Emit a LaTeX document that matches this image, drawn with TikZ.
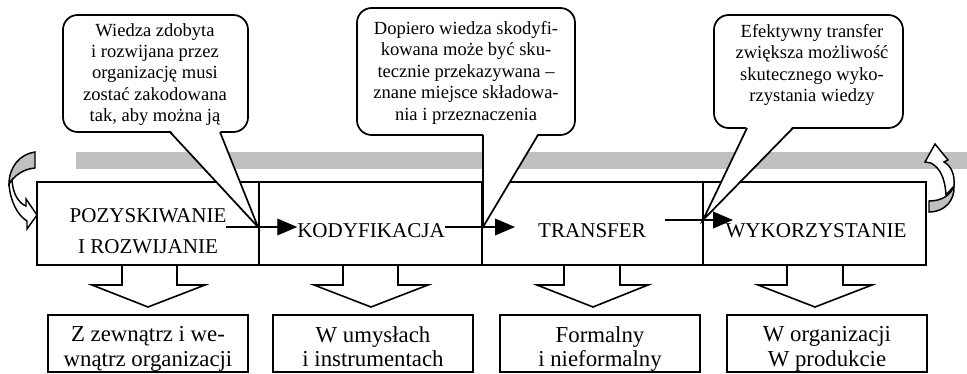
\documentclass[tikz,border=0pt]{standalone}
\usepackage{fontspec}
\setmainfont{Liberation Serif}
\usetikzlibrary{arrows.meta}
\definecolor{bargray}{RGB}{192,192,192}
\begin{document}
\begin{tikzpicture}[x=0.75pt,y=-0.75pt,line join=miter,
  stagebox/.style={draw,line width=1.3pt,fill=white,minimum width=#1,
    minimum height=62.25pt,inner sep=0pt,outer sep=0pt,anchor=north west},
  resultbox/.style={draw,line width=1.3pt,fill=white,minimum width=150pt,
    minimum height=42.75pt,inner sep=0pt,outer sep=0pt,anchor=north west},
  calloutbox/.style={draw,line width=1.3pt,fill=white,rounded corners=11pt,
    inner sep=0pt,outer sep=0pt,minimum width=#1},
  stagetext/.style={inner sep=0pt,outer sep=0pt,align=center,
    font=\fontsize{15.8pt}{23.3pt}\selectfont},
  resulttext/.style={inner sep=0pt,outer sep=0pt,align=center,anchor=north,
    font=\fontsize{17.1pt}{18.4pt}\selectfont},
  callouttext/.style={inner sep=0pt,outer sep=0pt,align=center,anchor=north,
    font=\fontsize{13.9pt}{16.1pt}\selectfont},
  flow/.style={line width=1.1pt,-{Triangle[length=15pt,width=12.5pt]}},
  downarrow/.style={draw,line width=1.2pt},
  tailline/.style={line width=1.3pt},
  ribbon/.style={draw,line width=1.1pt}]
\useasboundingbox (0,0) rectangle (967,374);

% grey band behind the process
\fill[bargray] (76,152) rectangle (967,169);

% process stages
\node[stagebox=166.5pt] (s1) at (37,182) {};
\node[stagebox=167.25pt] (s2) at (259,182) {};
\node[stagebox=165.75pt] (s3) at (482,182) {};
\node[stagebox=167.25pt] (s4) at (703,182) {};

\node[stagetext,anchor=north] (t1) at (148,208.1) {POZYSKIWANIE\\I ROZWIJANIE};
\node[stagetext,anchor=base] (t2) at (371,237) {KODYFIKACJA};
\node[stagetext,anchor=base] (t3) at (592,237) {TRANSFER};
\node[stagetext,anchor=base] (t4) at (816,237) {WYKORZYSTANIE};

% block arrows down to the descriptions
\draw[downarrow] (122,265) -- (122,285) -- (92,285) -- (148,307) -- (205,285) -- (177,285) -- (177,265);
\draw[downarrow] (343,265) -- (343,285) -- (314,285) -- (371,307) -- (428,285) -- (398,285) -- (398,265);
\draw[downarrow] (564,265) -- (564,285) -- (537,285) -- (593,307) -- (648,285) -- (620,285) -- (620,265);
\draw[downarrow] (787,265) -- (787,285) -- (758,285) -- (815,307) -- (872,285) -- (843,285) -- (843,265);

% descriptions
\node[resultbox] (r1) at (48,315) {};
\node[resultbox] (r2) at (273,315) {};
\node[resultbox] (r3) at (500,315) {};
\node[resultbox] (r4) at (727,315) {};
\node[resulttext] (d1) at (148,326.5) {Z zewnątrz i we-\\wnątrz organizacji};
\node[resulttext] (d2) at (373,326.5) {W umysłach\\i instrumentach};
\node[resulttext] (d3) at (600,326.5) {Formalny\\i nieformalny};
\node[resulttext] (d4) at (827,326.5) {W organizacji\\W produkcie};

% flow between stages
\coordinate (tip1) at (258,227);
\coordinate (tip2) at (483,227);
\coordinate (tip3) at (703,220);
\coordinate (h2) at (515,227);
\coordinate (g3) at (665,220);
\coordinate (h3) at (733,220);
\draw[flow] (t1.east |- tip1) -- (t2.west |- tip1);
\draw[flow] (t2.east |- tip2) -- (h2);
\draw[flow] (g3) -- (h3);

% curved return arrow, left
\filldraw[ribbon,fill=bargray] (35,152) .. controls (20,154) and (9,167) .. (9,184)
  .. controls (14,176) and (23,169) .. (35,168) -- cycle;
\filldraw[ribbon,fill=white] (9,184) .. controls (10,200) and (17,215) .. (27,221)
  -- (27,229) -- (37,215) -- (26,199) -- (26,206)
  .. controls (19,203) and (13,195) .. (12,180) -- cycle;

% curved return arrow, right
\filldraw[ribbon,fill=bargray] (929,212) .. controls (945,212) and (955,200) .. (954,186)
  .. controls (950,196) and (941,201) .. (929,201) -- cycle;
\filldraw[ribbon,fill=white] (954,186) .. controls (955,174) and (951,166) .. (944,162)
  -- (948,160) -- (935,144) -- (925,162) -- (931,163)
  .. controls (940,168) and (945,178) .. (946,195) -- cycle;

% callouts
\node[calloutbox=138.75pt,minimum height=87.75pt] (c1) at (155.5,73.5) {};
\fill[white] (170,130) -- (tip1) -- (220,130) -- cycle;
\draw[tailline] (170,132) -- (tip1) -- (220,132);
\node[callouttext] (x1) at (155,23.2)
  {Wiedza zdobyta\\i rozwijana przez\\organizację musi\\zostać zakodowana\\tak, aby można ją};

\node[calloutbox=163.5pt,minimum height=95.25pt] (c2) at (466,71.5) {};
\fill[white] (483,133) -- (tip2) -- (538,133) -- cycle;
\draw[tailline] (483,135) -- (tip2) -- (538,135);
\node[callouttext] (x2) at (466,21.2)
  {Dopiero wiedza skodyfi-\\kowana może być sku-\\tecznie przekazywana –\\znane miejsce składowa-\\nia i przeznaczenia};

\node[calloutbox=141.75pt,minimum height=84.75pt] (c3) at (808.5,71.5) {};
\fill[white] (747,126) -- (tip3) -- (793,126) -- cycle;
\draw[tailline] (747,128) -- (tip3) -- (793,128);
\node[callouttext] (x3) at (812,24.2)
  {Efektywny transfer\\zwiększa możliwość\\skutecznego wyko-\\rzystania wiedzy};
\end{tikzpicture}
\end{document}
